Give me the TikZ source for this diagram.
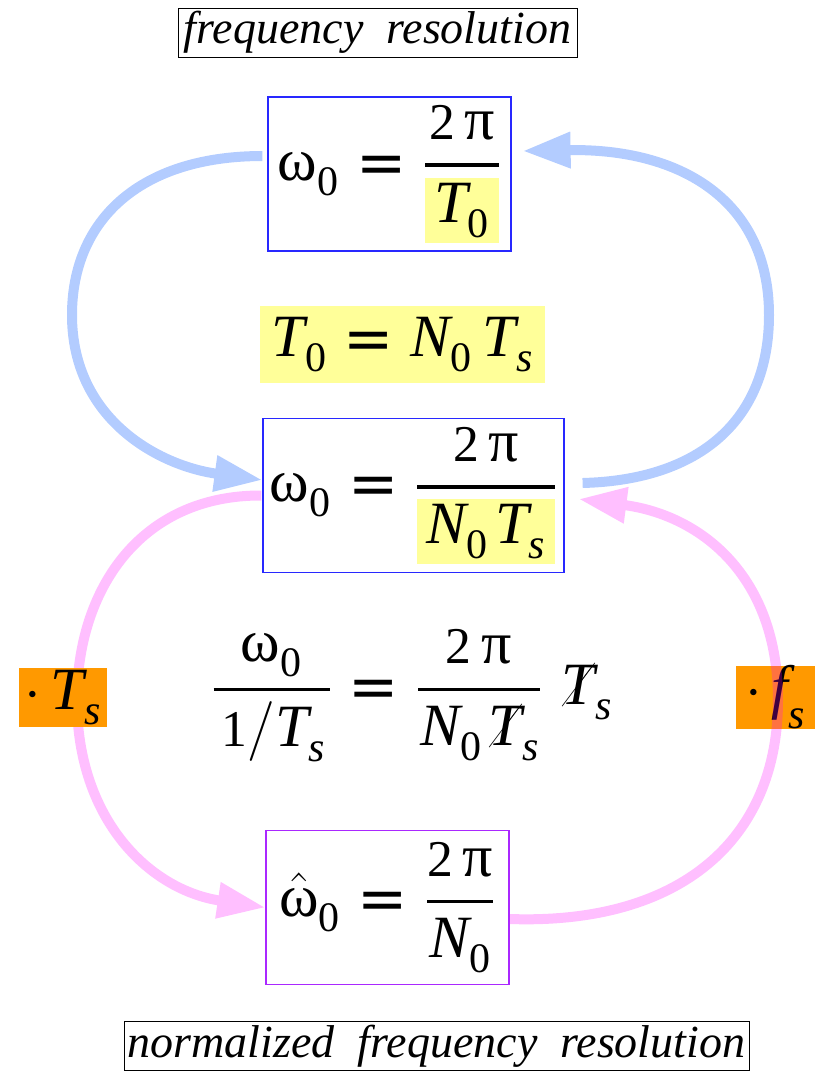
\RequirePackage{fix-cm}
\documentclass[tikz,border=0pt]{standalone}
\usepackage{amsmath,amssymb}
\usepackage{graphicx}
\usepackage{cancel}
\usepackage{fontspec}
\setmainfont{Liberation Serif}
\newfontfamily\eqsignfont{DejaVu Sans}
\usetikzlibrary{arrows.meta,positioning}
\definecolor{arcblue}{RGB}{179,204,255}
\definecolor{arcpink}{RGB}{255,0,255}
\definecolor{hlyellow}{RGB}{255,255,153}
\definecolor{tagorange}{RGB}{255,153,0}
\definecolor{boxblue}{RGB}{40,40,255}
\definecolor{boxviolet}{RGB}{170,40,255}
\newcommand{\gr}[1]{\textup{#1}}
\newcommand{\nm}[1]{\textup{\scalebox{0.86}{#1}}}
\newcommand{\vv}[1]{\textit{#1}}
\newcommand{\lo}[1]{\text{\raisebox{-3pt}{#1}}}
\newcommand{\eqs}{\mathrel{\text{\raisebox{-1.5pt}{\eqsignfont =}}}}
\newcommand{\hl}[1]{{\setlength{\fboxsep}{2.5pt}\colorbox{hlyellow}{\hspace{2pt}$#1$\hspace{2pt}}}}
\newcommand{\fr}[2]{\genfrac{}{}{1.8pt}{0}{#1}{#2}}
\tikzset{
  eqfont/.style={font=\fontsize{30}{36}\selectfont},
  eqbox/.style={draw, line width=0.6pt, minimum height=77pt, inner sep=0pt, eqfont},
  hlbox/.style={fill=hlyellow, minimum width=142.5pt, minimum height=38.5pt, inner sep=0pt, eqfont},
  tagbox/.style={fill=tagorange, minimum height=29.5pt, inner sep=0pt, eqfont},
  namebox/.style={draw, line width=0.5pt, minimum height=24.5pt, inner sep=0pt, font=\fontsize{23}{26}\selectfont\itshape},
  bluearc/.style={draw=arcblue, line width=5pt, -{Triangle[length=24pt,width=17pt]}},
  pinkarc/.style={draw=arcpink, line width=5pt, -{Triangle[length=24pt,width=17pt]}}
}
\begin{document}
\begin{tikzpicture}[x=0.5pt, y=-0.5pt]
  \useasboundingbox (0,0) rectangle (825,1072);
  \node[namebox, minimum width=199.5pt] (toptitle) at (377.5,32.5) {frequency\ \ resolution};
  \node[eqbox, draw=boxblue, minimum width=121.5pt] (resbox) at (389.5,174)
    {$\gr{ω}_{\lo{0}} \eqs \fr{\nm{2}\,\gr{π}}{\hl{\vv{T}_{\lo{0}}}}$};
  \node[hlbox] (trel) at (402.5,344.5)
    {$\vv{T}_{\lo{0}} \eqs \vv{N}_{\lo{0}}\mkern3mu\vv{T}_{\lo{\itshape s}}$};
  \node[eqbox, draw=boxblue, minimum width=150.5pt] (fullbox) at (413.5,495.5)
    {$\gr{ω}_{\lo{0}} \eqs \fr{\nm{2}\,\gr{π}}{\hl{\vv{N}_{\lo{0}}\mkern2mu\vv{T}_{\lo{\itshape s}}}}$};
  \node[eqfont] (mideq) at (412,696)
    {$\fr{\gr{ω}_{\lo{0}}}{\hspace{4pt}\nm{1}/\vv{T}_{\lo{\itshape s}}\hspace{2pt}} \eqs
      \fr{\nm{2}\,\gr{π}}{\hspace{1pt}\vv{N}_{\lo{0}}\mkern2mu\cancel{\vv{T}}_{\lo{\itshape s}}}\mkern6mu\cancel{\vv{T}}_{\lo{\itshape s}}$};
  \node[eqbox, draw=boxviolet, minimum width=121.5pt] (normbox) at (387.5,907.5)
    {$\hat{\gr{ω}}_{\lo{0}} \eqs \fr{\nm{2}\,\gr{π}}{\vv{N}_{\lo{0}}}$};
  \node[namebox, minimum width=312.5pt] (bottitle) at (436.5,1046) {normalized\ \ frequency\ \ resolution};
  \node[tagbox, minimum width=39.5pt] (tagf) at (775.5,697.5) {$\cdot\,\vv{f}_{\lo{\itshape s}}$};
  % blue loop
  \draw[bluearc] ([xshift=-2.5pt,yshift=9pt]resbox.west) .. controls (140,156) and (72,220) .. (72,315)
    .. controls (72,420) and (160,466) .. ([yshift=7.75pt]fullbox.west);
  \draw[bluearc] ([xshift=9pt,yshift=6.25pt]fullbox.east) .. controls (700,480) and (769,420) .. (769,315)
    .. controls (769,200) and (680,148) .. ([xshift=5.5pt,yshift=11.5pt]resbox.east);
  % pink loop, see-through over the tags
  \begin{scope}[transparency group, opacity=0.25]
    \draw[pinkarc] ([xshift=-0.5pt]fullbox.west) .. controls (140,495) and (77,590) .. (77,700)
      .. controls (77,820) and (150,890) .. (normbox.west);
    \draw[pinkarc] ([yshift=-5.75pt]normbox.east) .. controls (680,925) and (778,840) .. (778,700)
      .. controls (778,575) and (700,515) .. ([xshift=7pt,yshift=-1.75pt]fullbox.east);
  \end{scope}
  \node[tagbox, minimum width=44pt] (tagt) at (63,697.5) {$\cdot\,\vv{T}_{\lo{\itshape s}}$};
\end{tikzpicture}
\end{document}
